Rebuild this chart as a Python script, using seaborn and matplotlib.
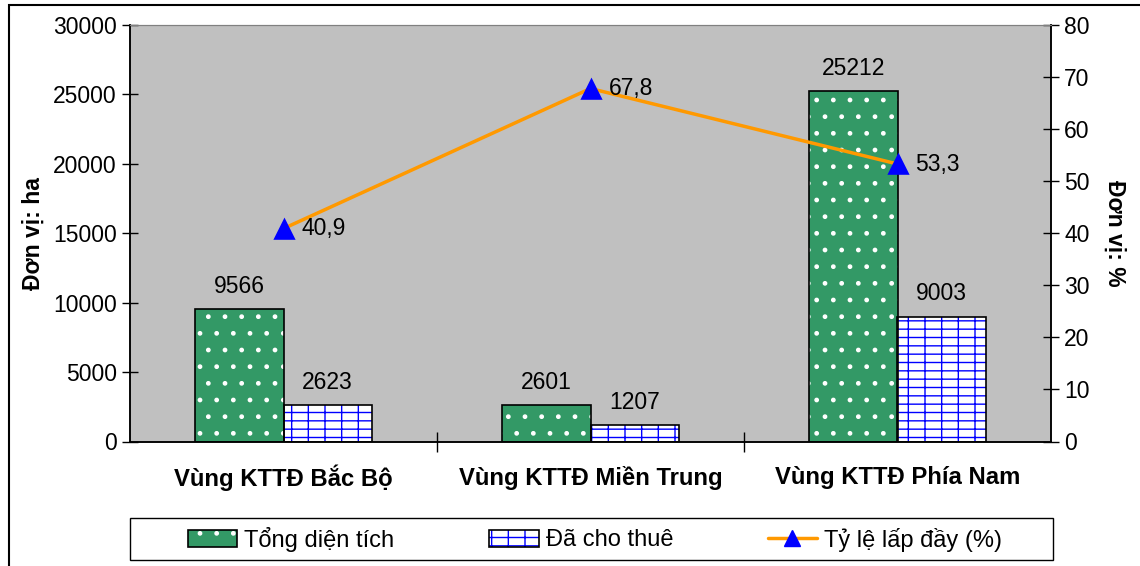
import matplotlib
matplotlib.use("Agg")
import matplotlib.pyplot as plt
import pandas as pd
import seaborn as sns
from matplotlib.lines import Line2D
from matplotlib.patches import Patch, Rectangle

# data
regions = ["Vùng KTTĐ Bắc Bộ", "Vùng KTTĐ Miền Trung", "Vùng KTTĐ Phía Nam"]
total_area = [9566, 2601, 25212]
leased_area = [2623, 1207, 9003]
occupancy_pct = [40.9, 67.8, 53.3]
series_names = ["Tổng diện tích", "Đã cho thuê", "Tỷ lệ lấp đầy (%)"]
left_ticks = [0, 5000, 10000, 15000, 20000, 25000, 30000]
right_ticks = [0, 10, 20, 30, 40, 50, 60, 70, 80]

GREEN = "#339966"
BLUE = "#0000FF"
ORANGE = "#FF9900"
FS = 16.5

sns.set_style("white")
plt.rcParams["font.family"] = ["Liberation Sans", "DejaVu Sans"]
plt.rcParams["hatch.linewidth"] = 1.0
for key in ("text.color", "axes.labelcolor", "xtick.color", "ytick.color"):
    plt.rcParams[key] = "black"

bars_df = pd.DataFrame(
    {
        "region": regions * 2,
        "value": total_area + leased_area,
        "series": [series_names[0]] * 3 + [series_names[1]] * 3,
    }
)

fig = plt.figure(figsize=(11.4, 5.66), dpi=100)
ax = fig.add_axes([130 / 1140, 1 - 441.5 / 566, 921 / 1140, 416.5 / 566])
ax.set_facecolor("#C0C0C0")

sns.barplot(
    data=bars_df,
    x="region",
    y="value",
    hue="series",
    order=regions,
    hue_order=series_names[:2],
    palette=[GREEN, "white"],
    saturation=1,
    width=0.575,
    gap=0,
    legend=False,
    ax=ax,
)

# hatch in white dots / blue bricks, then black outline on top
n = len(regions)
for i, bar in enumerate(ax.patches[: 2 * n]):
    if i < n:
        bar.set_hatch(".")
        bar.set_edgecolor("white")
    else:
        bar.set_hatch("-+")
        bar.set_edgecolor(BLUE)
    bar.set_linewidth(0)
    ax.add_patch(
        Rectangle(
            bar.get_xy(), bar.get_width(), bar.get_height(),
            fill=False, edgecolor="black", linewidth=1.2, zorder=bar.get_zorder() + 0.1,
        )
    )
    ax.annotate(
        f"{int(bar.get_height())}",
        (bar.get_x() + bar.get_width() / 2, bar.get_height()),
        xytext=(0, 8), textcoords="offset points",
        ha="center", va="bottom", fontsize=FS,
    )

ax.set_ylim(0, 30000)
ax.set_yticks(left_ticks)
ax.set_xlim(-0.5, n - 0.5)
ax.set_xlabel("")
ax.set_ylabel("Đơn vị: ha", fontsize=FS, fontweight="bold", labelpad=6)
ax.tick_params(axis="y", direction="inout", length=11, width=1, labelsize=FS, left=True, pad=4)
ax.tick_params(axis="x", which="major", length=0, labelsize=17.2, pad=26)
for lbl in ax.get_xticklabels():
    lbl.set_fontweight("bold")
    lbl.set_verticalalignment("center")
ax.set_xticks([0.5, 1.5], minor=True)
ax.tick_params(axis="x", which="minor", direction="inout", length=15, width=1, bottom=True)

# occupancy line on the right axis
ax2 = ax.twinx()
sns.pointplot(x=regions, y=occupancy_pct, order=regions, color=ORANGE,
              markers="^", linewidth=2.5, ax=ax2)
for line in ax2.lines:
    line.set_markerfacecolor(BLUE)
    line.set_markeredgecolor(BLUE)
    line.set_markersize(13)
for i, v in enumerate(occupancy_pct):
    ax2.annotate(
        f"{v:.1f}".replace(".", ","), (i, v),
        xytext=(13, 0), textcoords="offset points",
        ha="left", va="center", fontsize=FS,
    )
ax2.set_ylim(0, 80)
ax2.set_yticks(right_ticks)
ax2.set_xlim(-0.5, n - 0.5)
ax2.set_ylabel("Đơn vị: %", fontsize=FS, fontweight="bold", rotation=-90, labelpad=26)
ax2.tick_params(axis="y", direction="inout", length=11, width=1, labelsize=FS, right=True, pad=4)

for a in (ax, ax2):
    a.spines["top"].set_color("#808080")
    for side in ("left", "right", "bottom"):
        a.spines[side].set_color("black")
        a.spines[side].set_linewidth(1.1)

# legend below the plot, with its own frame box
green_h = (Patch(facecolor=GREEN, edgecolor="white", hatch=".", linewidth=0),
           Patch(facecolor="none", edgecolor="black", linewidth=1.2))
blue_h = (Patch(facecolor="white", edgecolor=BLUE, hatch="-+", linewidth=0),
          Patch(facecolor="none", edgecolor="black", linewidth=1.2))
line_h = Line2D([], [], color=ORANGE, linewidth=2.5, marker="^",
                markersize=12, markerfacecolor=BLUE, markeredgecolor=BLUE)
leg = ax.legend(
    [green_h, blue_h, line_h], series_names,
    loc="center", bbox_to_anchor=(465 / 921, (441.5 - 539) / 416.5),
    ncol=3, fontsize=17, frameon=False,
    handlelength=2.1, handletextpad=0.3, columnspacing=4.0,
)
ax.add_patch(Rectangle((0, (441.5 - 560) / 416.5), 923 / 921, 42 / 416.5,
                       transform=ax.transAxes, clip_on=False, fill=False,
                       edgecolor="black", linewidth=1.0))

# outer chart border
fig.add_artist(Rectangle((8.5 / 1140, -0.1), 1.2, 1.1 - 4.5 / 566, transform=fig.transFigure,
                         fill=False, edgecolor="black", linewidth=1.5))

fig.savefig("out.png", dpi=100)
